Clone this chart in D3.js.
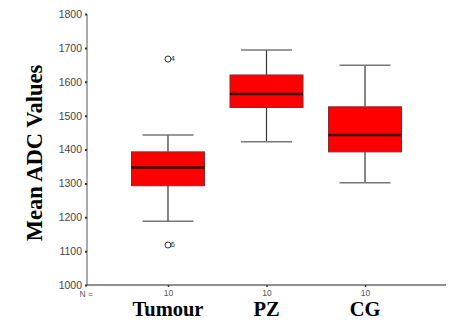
<!DOCTYPE html>
<html><head><meta charset="utf-8">
<script src="https://cdn.jsdelivr.net/npm/d3@7/dist/d3.min.js"></script>
<style>body{margin:0;background:#fff}svg{display:block}</style>
</head><body>
<script>
const categories = ["Tumour", "PZ", "CG"];
const counts = [10, 10, 10];
const lowerWhisker = [1188, 1423, 1302];
const q1 = [1293, 1524, 1393];
const median = [1347, 1564, 1443];
const q3 = [1393, 1620, 1526];
const upperWhisker = [1443, 1694, 1649];
const outlierCategory = ["Tumour", "Tumour"];
const outlierValue = [1667, 1118];
const outlierLabel = ["4", "6"];
const yTicks = [1000, 1100, 1200, 1300, 1400, 1500, 1600, 1700, 1800];

const W = 452, H = 321;
const svg = d3.select("body").append("svg").attr("width", W).attr("height", H);

const y = d3.scaleLinear().domain([1000, 1800]).range([285, 14]);
const x = d3.scalePoint().domain(categories).range([87, 446]).padding(0.822);

// axes
const yAxis = d3.axisLeft(y).tickValues(yTicks).tickSize(2).tickPadding(3).tickFormat(d3.format("d"));
const gy = svg.append("g").attr("transform", "translate(87,0)").call(yAxis);
gy.select(".domain").attr("stroke", "#555").attr("d", "M0,14V285");
gy.selectAll(".tick line").attr("stroke", "#333").attr("stroke-width", 2);
gy.selectAll(".tick text").attr("font-family", "Liberation Sans, Arial, sans-serif")
  .attr("font-size", 10.5).attr("fill", "#444");

const xAxis = d3.axisBottom(x).tickSize(2).tickPadding(3).tickFormat((d, i) => counts[i]);
const gx = svg.append("g").attr("transform", "translate(0,285)").call(xAxis);
gx.select(".domain").attr("stroke", "#222").attr("d", "M87,0H446");
gx.selectAll(".tick line").attr("stroke", "#333").attr("stroke-width", 1.5);
gx.selectAll(".tick text").attr("font-family", "Liberation Sans, Arial, sans-serif")
  .attr("font-size", 8.5).attr("fill", "#555");

svg.append("text").attr("x", 93).attr("y", 297).attr("text-anchor", "end")
  .attr("font-family", "Liberation Sans, Arial, sans-serif").attr("font-size", 8.5).attr("fill", "#555")
  .text("N =");

// category labels
svg.selectAll("text.cat").data(categories).join("text").attr("class", "cat")
  .attr("x", d => x(d)).attr("y", 316).attr("text-anchor", "middle")
  .attr("font-family", "Liberation Serif, Times New Roman, serif").attr("font-weight", "bold")
  .attr("font-size", 20.5).attr("fill", "#000").text(d => d);

// y title
svg.append("text").attr("transform", "translate(42,153) rotate(-90)").attr("text-anchor", "middle")
  .attr("font-family", "Liberation Serif, Times New Roman, serif").attr("font-weight", "bold")
  .attr("font-size", 22.5).attr("fill", "#000").text("Mean ADC Values");

const boxW = 73, capW = 51;
const g = svg.append("g");
categories.forEach((c, i) => {
  const cx = x(c);
  // whiskers
  g.append("line").attr("x1", cx).attr("x2", cx).attr("y1", y(upperWhisker[i])).attr("y2", y(q3[i]))
    .attr("stroke", "#333").attr("stroke-width", 1.2);
  g.append("line").attr("x1", cx).attr("x2", cx).attr("y1", y(q1[i])).attr("y2", y(lowerWhisker[i]))
    .attr("stroke", "#333").attr("stroke-width", 1.2);
  g.append("line").attr("x1", cx - capW / 2).attr("x2", cx + capW / 2)
    .attr("y1", y(upperWhisker[i])).attr("y2", y(upperWhisker[i])).attr("stroke", "#777").attr("stroke-width", 1.5);
  g.append("line").attr("x1", cx - capW / 2).attr("x2", cx + capW / 2)
    .attr("y1", y(lowerWhisker[i])).attr("y2", y(lowerWhisker[i])).attr("stroke", "#777").attr("stroke-width", 1.5);
  // box
  g.append("rect").attr("x", cx - boxW / 2).attr("width", boxW)
    .attr("y", y(q3[i])).attr("height", y(q1[i]) - y(q3[i]))
    .attr("fill", "#ff0000").attr("stroke", "#8a2a2a").attr("stroke-width", 1);
  g.append("line").attr("x1", cx - boxW / 2).attr("x2", cx + boxW / 2)
    .attr("y1", y(median[i])).attr("y2", y(median[i])).attr("stroke", "#3a0000").attr("stroke-width", 2.6);
});

// outliers
outlierValue.forEach((v, i) => {
  const cx = x(outlierCategory[i]);
  g.append("circle").attr("cx", cx).attr("cy", y(v)).attr("r", 3)
    .attr("fill", "none").attr("stroke", "#333").attr("stroke-width", 1);
  g.append("text").attr("x", cx + 2.5).attr("y", y(v) + 2).attr("font-family", "Liberation Sans, Arial, sans-serif")
    .attr("font-size", 8).attr("fill", "#333").text(outlierLabel[i]);
});
</script>
</body></html>
